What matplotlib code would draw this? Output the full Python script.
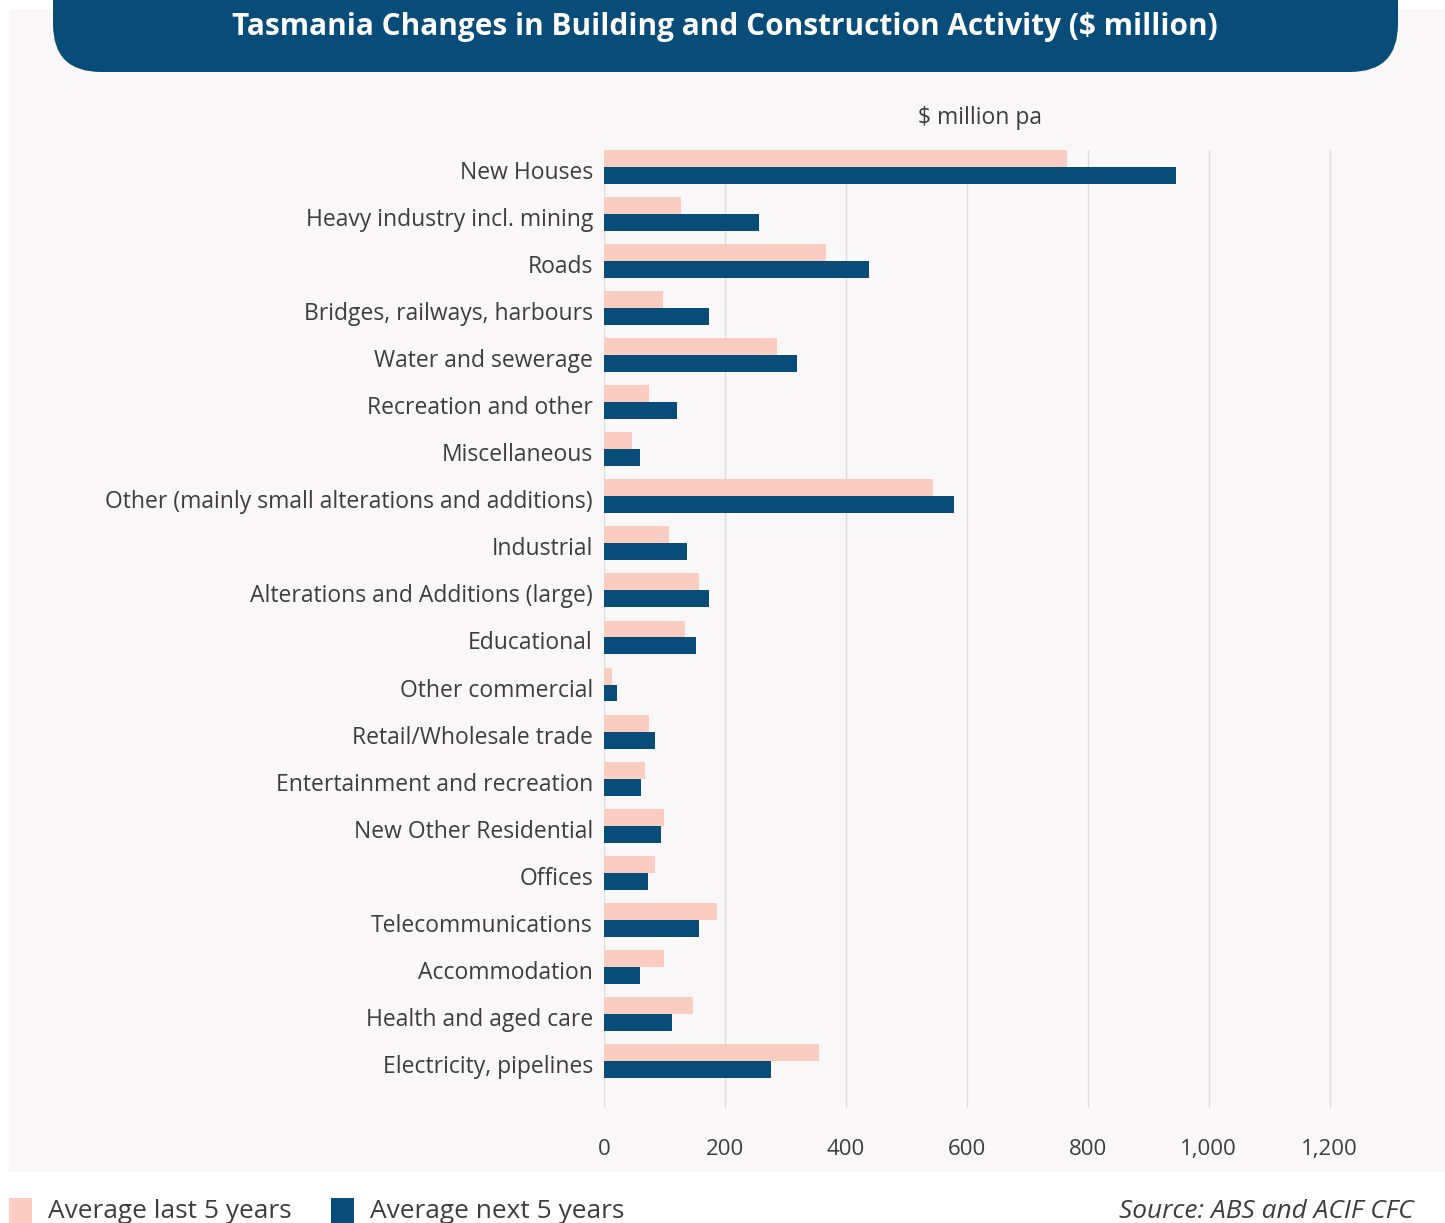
import matplotlib.pyplot as plt
import numpy as np
from matplotlib.patches import FancyBboxPatch, Rectangle
from matplotlib.transforms import ScaledTranslation

# categories top to bottom
categories = ["New Houses", "Heavy industry incl. mining", "Roads",
              "Bridges, railways, harbours", "Water and sewerage",
              "Recreation and other", "Miscellaneous",
              "Other (mainly small alterations and additions)", "Industrial",
              "Alterations and Additions (large)", "Educational",
              "Other commercial", "Retail/Wholesale trade",
              "Entertainment and recreation", "New Other Residential",
              "Offices", "Telecommunications", "Accommodation",
              "Health and aged care", "Electricity, pipelines"]
last_5 = [766, 128, 367, 98, 286, 75, 46, 544, 107, 157, 134, 14, 74, 67, 99, 85, 187, 99, 147, 355]
next_5 = [946, 257, 438, 173, 319, 120, 59, 579, 137, 173, 152, 22, 85, 62, 94, 72, 157, 59, 112, 276]
xticks = [0, 200, 400, 600, 800, 1000, 1200]
xtick_labels = ["0", "200", "400", "600", "800", "1,000", "1,200"]

PINK = "#fbccc0"
BLUE = "#084d7a"
GREY = "#3d3d3d"
FONT = "Open Sans"

W, H = 1445, 1223
fig = plt.figure(figsize=(W / 100, H / 100), dpi=100)
fig.patch.set_facecolor("white")

# background layer in pixel coords
bg = fig.add_axes([0, 0, 1, 1])
bg.set_xlim(0, W)
bg.set_ylim(H, 0)
bg.axis("off")
bg.add_patch(Rectangle((9, 9), W - 9, 1172 - 9, color="#f9f7f8", lw=0))
bg.add_patch(FancyBboxPatch((53, -60), 1345, 132, boxstyle="round,pad=0,rounding_size=48",
                            color=BLUE, lw=0))
bg.text(725, 27, "Tasmania Changes in Building and Construction Activity ($ million)",
        color="white", fontsize=21.4, fontweight="bold", family=FONT, ha="center", va="center")
bg.text(980, 118, "$ million pa", color=GREY, fontsize=16.5, family=FONT, ha="center", va="center")

# legend + source
bg.add_patch(Rectangle((9, 1198), 23, 30, color=PINK, lw=0))
bg.text(48, 1212, "Average last 5 years", color=GREY, fontsize=18.9, family=FONT, va="center")
bg.add_patch(Rectangle((331, 1198), 23, 30, color=BLUE, lw=0))
bg.text(370, 1212, "Average next 5 years", color=GREY, fontsize=18.9, family=FONT, va="center")
bg.text(1119, 1212, "Source: ABS and ACIF CFC", color=GREY, fontsize=18.9, family=FONT,
        style="italic", ha="left", va="center")

# main chart
ax = fig.add_axes([604 / W, 1 - 1108 / H, (W - 604) / W, (1108 - 150) / H])
ax.patch.set_alpha(0)
y = np.arange(len(categories))
h = 0.36
ax.barh(y - h / 2, last_5, height=h, color=PINK, label="Average last 5 years", zorder=3)
ax.barh(y + h / 2, next_5, height=h, color=BLUE, label="Average next 5 years", zorder=3)
ax.set_ylim(len(categories), -h)
ax.set_xlim(0, 1391)
ax.set_yticks(y)
ax.set_yticklabels(categories, fontsize=16.5, color=GREY, family=FONT)
ax.set_xticks(xticks)
ax.set_xticklabels(xtick_labels, fontsize=16, color=GREY, family=FONT)
ax.tick_params(length=0)
ax.tick_params(axis="y", pad=8)
ax.tick_params(axis="x", pad=22)
ax.grid(axis="x", color="#dcdcdc", lw=1, zorder=0)
for s in ax.spines.values():
    s.set_visible(False)
shift = ScaledTranslation(0, -0.03, fig.dpi_scale_trans)
for lab in ax.get_yticklabels():
    lab.set_transform(lab.get_transform() + shift)

fig.savefig("out.png", dpi=100)
